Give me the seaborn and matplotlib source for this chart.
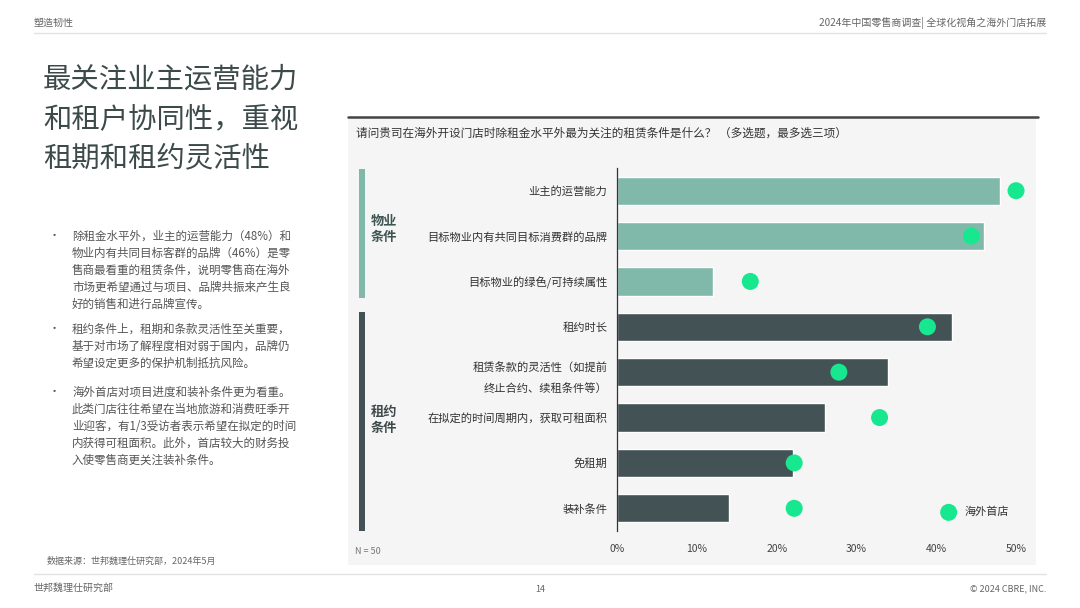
import matplotlib
matplotlib.use("Agg")
import matplotlib.pyplot as plt
import seaborn as sns
import pandas as pd
from matplotlib.patches import Rectangle
from matplotlib.lines import Line2D

# ---------------- data ----------------
categories = [
    "业主的运营能力",
    "目标物业内有共同目标消费群的品牌",
    "目标物业的绿色/可持续属性",
    "租约时长",
    "租赁条款的灵活性（如提前\n终止合约、续租条件等）",
    "在拟定的时间周期内，获取可租面积",
    "免租期",
    "装补条件",
]
groups = ["物业条件", "物业条件", "物业条件", "租约条件", "租约条件", "租约条件", "租约条件", "租约条件"]
all_values = [48, 46, 12, 42, 34, 26, 22, 14]
first_store = [50.0, 44.4, 16.7, 38.9, 27.8, 32.9, 22.2, 22.2]
x_ticks = [0, 10, 20, 30, 40, 50]
x_tick_labels = ["0%", "10%", "20%", "30%", "40%", "50%"]

df = pd.DataFrame({"cat": categories, "group": groups, "all": all_values, "first": first_store})

# ---------------- style ----------------
sns.set_theme(style="white")
plt.rcParams["font.family"] = ["Noto Sans CJK SC", "DejaVu Sans"]

W, H = 1080, 608
fig = plt.figure(figsize=(W / 100, H / 100), dpi=100)
fig.patch.set_facecolor("white")

def fx(x):
    return x / W

def fy(y):
    return 1 - y / H

TEAL = "#80b9aa"
DARK = "#435254"
GREEN = "#17e88f"
TXT = "#3d4a4a"
GRAY = "#666666"

# header / footer
fig.text(fx(34), fy(23), "塑造韧性", fontsize=7.2, color=GRAY, va="center", ha="left")
fig.text(fx(1046), fy(23), "2024年中国零售商调查| 全球化视角之海外门店拓展", fontsize=7.2, color=GRAY,
         va="center", ha="right")
fig.add_artist(Line2D([fx(34), fx(1046)], [fy(33), fy(33)], color="#e2e2e2", lw=1))
fig.add_artist(Line2D([fx(34), fx(1046)], [fy(574), fy(574)], color="#e2e2e2", lw=1))
fig.text(fx(34), fy(588), "世邦魏理仕研究部", fontsize=7.2, color=GRAY, va="center", ha="left")
fig.text(fx(540), fy(590), "14", fontsize=6.5, color=GRAY, va="center", ha="center")
fig.text(fx(1046), fy(589), "© 2024 CBRE, INC.", fontsize=6.5, color=GRAY, va="center", ha="right")
fig.text(fx(47), fy(561), "数据来源：世邦魏理仕研究部，2024年5月", fontsize=6.5, color=GRAY, va="center", ha="left")

# left title
title_lines = ["最关注业主运营能力", "和租户协同性，重视", "租期和租约灵活性"]
for i, t in enumerate(title_lines):
    fig.text(fx(43), fy(80 + i * 39), t, fontsize=20.4, color=TXT, va="center", ha="left")

# bullets
bullets = [
    (236, ["除租金水平外，业主的运营能力（48%）和",
           "物业内有共同目标客群的品牌（46%）是零",
           "售商最看重的租赁条件，说明零售商在海外",
           "市场更希望通过与项目、品牌共振来产生良",
           "好的销售和进行品牌宣传。"]),
    (329, ["租约条件上，租期和条款灵活性至关重要，",
           "基于对市场了解程度相对弱于国内，品牌仍",
           "希望设定更多的保护机制抵抗风险。"]),
    (392, ["海外首店对项目进度和装补条件更为看重。",
           "此类门店往往希望在当地旅游和消费旺季开",
           "业迎客，有1/3受访者表示希望在拟定的时间",
           "内获得可租面积。此外，首店较大的财务投",
           "入使零售商更关注装补条件。"]),
]
for y0, lines in bullets:
    fig.text(fx(54), fy(y0), "•", fontsize=8, color="#555555", va="center", ha="center")
    for j, ln in enumerate(lines):
        fig.text(fx(72), fy(y0 + j * 17), ln, fontsize=8.3, color="#555555", va="center", ha="left")

# chart panel background
fig.add_artist(Rectangle((fx(348), fy(565)), fx(1036) - fx(348), fy(118) - fy(565),
                         transform=fig.transFigure, facecolor="#f5f5f5", edgecolor="none", zorder=0))
fig.add_artist(Line2D([fx(348), fx(1038)], [fy(117), fy(117)], color="#444444", lw=1.8))
fig.text(fx(356), fy(133), "请问贵司在海外开设门店时除租金水平外最为关注的租赁条件是什么？ （多选题，最多选三项）",
         fontsize=8.4, color="#333333", va="center", ha="left")

# group indicators
fig.add_artist(Rectangle((fx(359), fy(298)), fx(6), fy(169) - fy(298), transform=fig.transFigure,
                         facecolor=TEAL, edgecolor="none"))
fig.add_artist(Rectangle((fx(359), fy(531)), fx(6), fy(312) - fy(531), transform=fig.transFigure,
                         facecolor=DARK, edgecolor="none"))
fig.text(fx(371), fy(229), "物业\n条件", fontsize=9.5, fontweight="bold", color="#3f5553",
         va="center", ha="left", linespacing=1.25)
fig.text(fx(371), fy(420), "租约\n条件", fontsize=9.5, fontweight="bold", color="#3f4a4a",
         va="center", ha="left", linespacing=1.25)
fig.text(fx(355), fy(551), "N = 50", fontsize=6.5, color="#777777", va="center", ha="left")

# main axes
ax = fig.add_axes([fx(617), fy(531), fx(1032) - fx(617), fy(168) - fy(531)])
ax.set_facecolor("none")
sns.barplot(data=df, x="all", y="cat", hue="group", palette={"物业条件": TEAL, "租约条件": DARK},
            dodge=False, width=0.62, legend=False, ax=ax, saturation=1, zorder=2)
sns.scatterplot(data=df, x="first", y="cat", color=GREEN, s=150, edgecolor="none", ax=ax, zorder=3,
                label="海外首店")

ax.set_xlim(0, 52)
ax.set_ylim(7.5, -0.5)
ax.set_xticks(x_ticks)
ax.set_xticklabels(x_tick_labels, fontsize=7.5, color="#444444")
ax.set_xlabel("")
ax.set_ylabel("")
ax.tick_params(axis="x", length=0, pad=9)
ax.tick_params(axis="y", length=0, pad=7, labelsize=8.1, labelcolor="#333333")
for lbl in ax.get_yticklabels():
    lbl.set_linespacing(2.2)
for s in ["top", "right", "bottom"]:
    ax.spines[s].set_visible(False)
ax.spines["left"].set_color("#333333")
ax.spines["left"].set_linewidth(0.9)
ax.grid(False)

leg = ax.legend(loc="center left", bbox_to_anchor=(fx(932), fy(512)), bbox_transform=fig.transFigure,
                frameon=False, fontsize=8, handletextpad=0.4, borderpad=0, labelcolor="#333333")

fig.savefig("out.png", dpi=100, facecolor="white")
